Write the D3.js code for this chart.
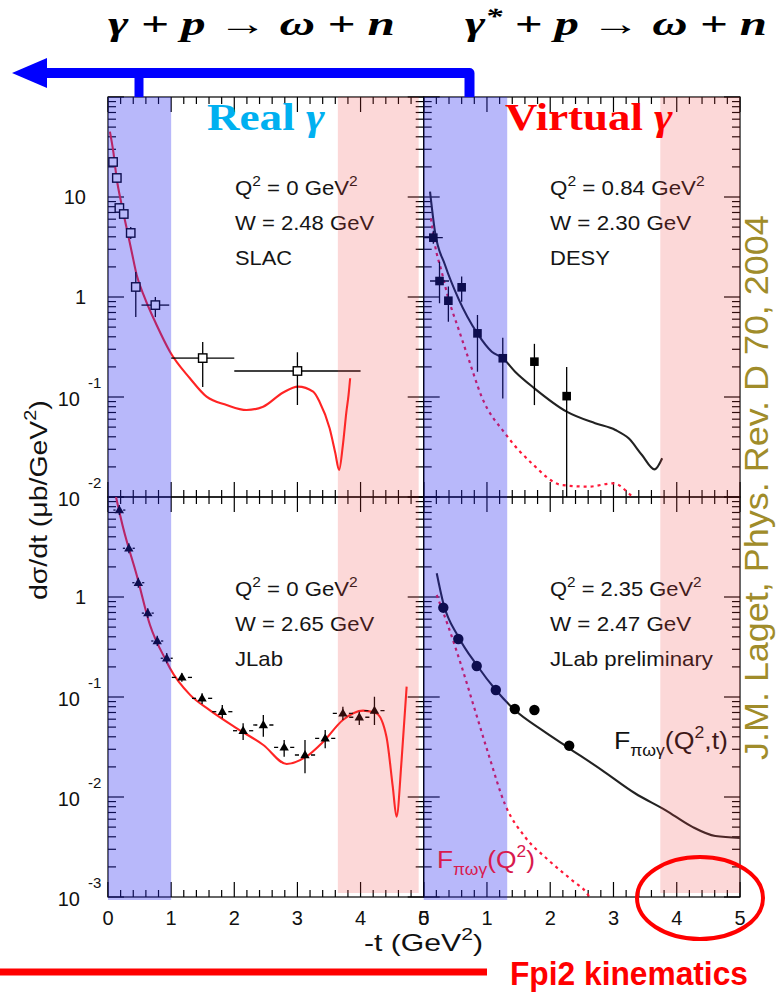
<!DOCTYPE html>
<html>
<head>
<meta charset="utf-8">
<script src="https://cdn.jsdelivr.net/npm/d3@7/dist/d3.min.js"></script>
<style>
  html, body { margin: 0; padding: 0; background: #fff; }
  svg { display: block; }
</style>
</head>
<body>
<svg id="chart" width="777" height="993"></svg>
<script>
// ---------- axis ticks ----------
const xTickValues = [0, 1, 2, 3, 4, 5];
const topYLabels = [10, 1, 0.1, 0.01];
const botYLabels = [1, 0.1, 0.01, 0.001];

// ---------- shaded -t ranges [tmin, tmax] ----------
const blueBandLeft  = [0, 1.0];
const blueBandRight = [0, 1.32];
const pinkBandLeft  = [3.64, 4.92];
const pinkBandRight = [3.74, 5.0];

// ---------- SLAC: Q2 = 0, W = 2.48 GeV ----------
const slacT    = [0.08, 0.14, 0.18, 0.25, 0.36, 0.44, 0.75, 1.5, 3.0];
const slacY    = [22.4, 15.5, 7.76, 6.76, 4.37, 1.26, 0.83, 0.245, 0.182];
const slacYLo  = [20.5, 14.0, 7.0, 6.1, 3.8, 0.63, 0.63, 0.126, 0.083];
const slacYHi  = [24.5, 17.0, 8.6, 7.5, 5.0, 1.78, 1.0, 0.355, 0.28];
const slacTErr = [0, 0, 0, 0, 0, 0, 0.22, 0.5, 1.0];
const slacModelT = [0.03, 0.084, 0.137, 0.217, 0.296, 0.375, 0.454, 0.585, 0.77, 0.981, 1.297, 1.561, 1.878, 2.194, 2.457, 2.774, 3.011, 3.249, 3.35, 3.51, 3.6, 3.66, 3.72, 3.776, 3.81, 3.835];
const slacModelY = [45, 28.4, 15.4, 8.3, 4.86, 2.84, 1.66, 0.97, 0.525, 0.284, 0.154, 0.1007, 0.0832, 0.0741, 0.08, 0.111, 0.127, 0.113, 0.0897, 0.0486, 0.0275, 0.0186, 0.0331, 0.0713, 0.105, 0.154];

// ---------- DESY: Q2 = 0.84, W = 2.30 GeV ----------
const desyT    = [0.152, 0.25, 0.39, 0.60, 0.85, 1.25, 1.75, 2.26];
const desyY    = [3.92, 1.445, 0.918, 1.25, 0.433, 0.244, 0.2256, 0.102];
const desyYLo  = [3.4, 0.865, 0.566, 0.897, 0.179, 0.0966, 0.083, 0.005];
const desyYHi  = [4.6, 2.25, 1.27, 1.6, 0.661, 0.392, 0.34, 0.2];
const desyTErr = [0.15, 0.15, 0, 0, 0, 0, 0, 0];
const desyModelT = [0.1, 0.178, 0.337, 0.547, 0.848, 1.076, 1.25, 1.445, 1.75, 2.26, 2.71, 3.03, 3.24, 3.45, 3.65, 3.77];
const desyModelY = [11.3, 4.5, 2.09, 0.97, 0.433, 0.284, 0.244, 0.179, 0.122, 0.0713, 0.0546, 0.0468, 0.0386, 0.0263, 0.0189, 0.0244];
const desyFormT = [0.115, 0.178, 0.284, 0.39, 0.547, 0.706, 0.918, 1.285, 1.709, 2.18, 2.6, 3.0, 3.24, 3.3];
const desyFormY = [6.1, 3.31, 1.79, 0.97, 0.486, 0.244, 0.1, 0.0433, 0.0217, 0.0132, 0.0127, 0.0137, 0.0109, 0.01];

// ---------- JLab: Q2 = 0, W = 2.65 GeV ----------
const jlabT    = [0.18, 0.33, 0.48, 0.63, 0.78, 0.93, 1.17, 1.49, 1.81, 2.14, 2.46, 2.79, 3.12, 3.44, 3.72, 3.98, 4.22];
const jlabY    = [7.4, 3.07, 1.39, 0.69, 0.363, 0.244, 0.157, 0.097, 0.0713, 0.046, 0.0525, 0.0314, 0.0263, 0.0386, 0.0687, 0.0627, 0.073];
const jlabYLo  = [6.6, 2.74, 1.24, 0.616, 0.324, 0.218, 0.1422, 0.0851, 0.0612, 0.0372, 0.0401, 0.0253, 0.01725, 0.0307, 0.0589, 0.0525, 0.0525];
const jlabYHi  = [8.3, 3.44, 1.56, 0.77, 0.41, 0.275, 0.1726, 0.1089, 0.0832, 0.0546, 0.0661, 0.0372, 0.0372, 0.0468, 0.08, 0.0713, 0.1007];
const jlabTErr = [0.06, 0.06, 0.06, 0.06, 0.06, 0.06, 0.16, 0.16, 0.16, 0.16, 0.16, 0.16, 0.16, 0.16, 0.16, 0.16, 0.16];
const jlabModelT = [0.127, 0.242, 0.454, 0.665, 0.93, 0.98, 1.30, 1.61, 2.04, 2.46, 2.83, 3.14, 3.41, 3.72, 4.04, 4.25, 4.41, 4.51, 4.57, 4.65, 4.73];
const jlabModelY = [10, 4.86, 1.66, 0.525, 0.225, 0.195, 0.105, 0.074, 0.0486, 0.0331, 0.0214, 0.0253, 0.0357, 0.0589, 0.073, 0.0687, 0.0401, 0.0127, 0.00635, 0.0234, 0.127];

// ---------- JLab preliminary: Q2 = 2.35, W = 2.47 GeV ----------
const prelimT   = [0.31, 0.547, 0.838, 1.14, 1.44, 1.75, 2.30];
const prelimY   = [0.782, 0.38, 0.204, 0.1175, 0.0759, 0.0741, 0.0326];
const prelimYLo = [0.73, 0.355, 0.19, 0.109, 0.07, 0.069, 0.0295];
const prelimYHi = [0.84, 0.41, 0.219, 0.127, 0.082, 0.080, 0.036];
const prelimModelT = [0.206, 0.31, 0.547, 0.838, 1.14, 1.44, 1.867, 2.30, 2.816, 3.34, 3.82, 4.24, 4.61, 5.0];
const prelimModelY = [1.726, 0.865, 0.401, 0.209, 0.1175, 0.074, 0.0468, 0.0307, 0.0186, 0.0109, 0.0074, 0.00505, 0.00407, 0.0039];
const prelimFormT = [0.206, 0.39, 0.6, 0.81, 1.02, 1.29, 1.6, 1.97, 2.34, 2.58, 2.62];
const prelimFormY = [1.047, 0.505, 0.201, 0.0741, 0.0273, 0.0083, 0.004, 0.00234, 0.00148, 0.00109, 0.001];

// ---------- scales ----------
const xL = d3.scaleLinear().domain([0, 5]).range([108, 423.7]);
const xR = d3.scaleLinear().domain([0, 5]).range([423.7, 740]);
const yT = d3.scaleLog().domain([0.01, 100]).range([497, 97]);
const yB = d3.scaleLog().domain([0.001, 10]).range([897, 497]);

const sans = "'Liberation Sans', Arial, Helvetica, sans-serif";
const serif = "'Liberation Serif', 'Times New Roman', serif";
const svg = d3.select("#chart");
const defs = svg.append("defs");

const panels = {
  tl: { x: xL, y: yT }, tr: { x: xR, y: yT },
  bl: { x: xL, y: yB }, br: { x: xR, y: yB }
};
Object.entries(panels).forEach(([id, p]) => {
  const [x0, x1] = p.x.range(), [y1, y0] = p.y.range();
  defs.append("clipPath").attr("id", "clip-" + id)
    .append("rect").attr("x", x0).attr("y", y0).attr("width", x1 - x0).attr("height", y1 - y0);
  p.id = id;
});

// rich text: parts [{t, sup, sub, italic}], optional horizontal fit to a width
function richText(parent, o) {
  const g = parent.append("g")
    .attr("transform", `translate(${o.x},${o.y})` + (o.rotate ? ` rotate(${o.rotate})` : ""));
  const t = g.append("text")
    .attr("font-family", o.family || sans).attr("font-size", o.size)
    .attr("font-weight", o.weight || "normal").attr("font-style", o.style || "normal")
    .attr("fill", o.fill || "#111");
  let cur = 0;
  o.parts.forEach(p => {
    const target = p.sup ? -(o.supShift || 0.45) * o.size : p.sub ? (o.subShift || 0.32) * o.size : 0;
    const ts = t.append("tspan").attr("dy", target - cur).text(p.t);
    if (p.sup || p.sub) ts.attr("font-size", o.size * (o.smallScale || 0.7));
    if (p.italic) ts.attr("font-style", "italic");
    if (p.upright) ts.attr("font-style", "normal").attr("font-weight", "normal");
    cur = target;
  });
  const bw = t.node().getBBox().width;
  const k = o.width ? o.width / bw : 1;
  const fw = bw * k;
  const off = o.anchor === "middle" ? -fw / 2 : o.anchor === "end" ? -fw : 0;
  t.attr("transform", `translate(${off},0) scale(${k},1)`);
  return t;
}

// ---------- frames and ticks ----------
function drawFrame(p) {
  const [x0, x1] = p.x.range(), [y1, y0] = p.y.range();
  const g = svg.append("g").attr("stroke", "#000").attr("stroke-width", 1.2).attr("fill", "none");
  g.append("rect").attr("x", x0).attr("y", y0).attr("width", x1 - x0).attr("height", y1 - y0);
  p.x.ticks(25).forEach(v => {
    const major = Math.abs(v - Math.round(v)) < 1e-6, L = major ? 15 : 7, px = p.x(v);
    g.append("line").attr("x1", px).attr("x2", px).attr("y1", y1).attr("y2", y1 - L);
    g.append("line").attr("x1", px).attr("x2", px).attr("y1", y0).attr("y2", y0 + L);
  });
  p.y.ticks().forEach(v => {
    const lg = Math.log10(v), major = Math.abs(lg - Math.round(lg)) < 1e-6, L = major ? 16 : 8, py = p.y(v);
    g.append("line").attr("x1", x0).attr("x2", x0 + L).attr("y1", py).attr("y2", py);
    g.append("line").attr("x1", x1).attr("x2", x1 - L).attr("y1", py).attr("y2", py);
  });
}
Object.values(panels).forEach(drawFrame);

// ---------- model curves ----------
function drawCurve(p, T, Y, color, dash) {
  const line = d3.line().x(d => p.x(d[0])).y(d => p.y(d[1])).curve(d3.curveMonotoneX);
  svg.append("path").attr("clip-path", `url(#clip-${p.id})`)
    .attr("d", line(T.map((t, i) => [t, Y[i]])))
    .attr("fill", "none").attr("stroke", color).attr("stroke-width", dash ? 2.2 : 2.1)
    .attr("stroke-dasharray", dash || null).attr("stroke-linejoin", "round");
}
drawCurve(panels.tl, slacModelT, slacModelY, "#ff2424");
drawCurve(panels.tr, desyModelT, desyModelY, "#222");
drawCurve(panels.tr, desyFormT, desyFormY, "#ff1838", "3,4");
drawCurve(panels.bl, jlabModelT, jlabModelY, "#ff2424");
drawCurve(panels.br, prelimModelT, prelimModelY, "#222");
drawCurve(panels.br, prelimFormT, prelimFormY, "#ff1838", "3,4");

// ---------- data points with error bars ----------
function drawPoints(p, T, Y, lo, hi, terr, marker, hgap) {
  const g = svg.append("g").attr("clip-path", `url(#clip-${p.id})`);
  T.forEach((t, i) => {
    const px = p.x(t), py = p.y(Y[i]);
    const eg = g.append("g").attr("stroke", "#000").attr("stroke-width", 1.3);
    if (lo) eg.append("line").attr("x1", px).attr("x2", px).attr("y1", p.y(lo[i])).attr("y2", p.y(hi[i]));
    if (terr && terr[i] > 0) {
      const xa = p.x(t - terr[i]), xb = p.x(t + terr[i]), gap = hgap || 0;
      eg.append("line").attr("x1", xa).attr("x2", px - gap).attr("y1", py).attr("y2", py);
      eg.append("line").attr("x1", px + gap).attr("x2", xb).attr("y1", py).attr("y2", py);
    }
    if (marker === "openSquare") {
      g.append("rect").attr("x", px - 4.2).attr("y", py - 4.2).attr("width", 8.4).attr("height", 8.4)
        .attr("fill", "#fff").attr("stroke", "#000").attr("stroke-width", 1.4);
    } else if (marker === "square") {
      g.append("rect").attr("x", px - 4.3).attr("y", py - 4.3).attr("width", 8.6).attr("height", 8.6).attr("fill", "#000");
    } else if (marker === "triangle") {
      g.append("path").attr("transform", `translate(${px},${py + 0.5})`)
        .attr("d", d3.symbol(d3.symbolTriangle, 38)()).attr("fill", "#000");
    } else {
      g.append("circle").attr("cx", px).attr("cy", py).attr("r", 5.2).attr("fill", "#000");
    }
  });
}
drawPoints(panels.tl, slacT, slacY, slacYLo, slacYHi, slacTErr, "openSquare");
drawPoints(panels.tr, desyT, desyY, desyYLo, desyYHi, desyTErr, "square");
drawPoints(panels.bl, jlabT, jlabY, jlabYLo, jlabYHi, jlabTErr, "triangle", 6);
drawPoints(panels.br, prelimT, prelimY, prelimYLo, prelimYHi, null, "circle");

// ---------- kinematics text inside the panels ----------
const kin = [
  { x: 235, y: 195, parts: [{ t: "Q" }, { t: "2", sup: true }, { t: " = 0 GeV" }, { t: "2", sup: true }], w: 123 },
  { x: 235, y: 230, parts: [{ t: "W = 2.48 GeV" }], w: 140 },
  { x: 235, y: 265, parts: [{ t: "SLAC" }], w: 57 },
  { x: 550, y: 195, parts: [{ t: "Q" }, { t: "2", sup: true }, { t: " = 0.84 GeV" }, { t: "2", sup: true }], w: 155 },
  { x: 550, y: 230, parts: [{ t: "W = 2.30 GeV" }], w: 142 },
  { x: 550, y: 265, parts: [{ t: "DESY" }], w: 60 },
  { x: 235, y: 596, parts: [{ t: "Q" }, { t: "2", sup: true }, { t: " = 0 GeV" }, { t: "2", sup: true }], w: 123 },
  { x: 235, y: 631, parts: [{ t: "W = 2.65 GeV" }], w: 140 },
  { x: 235, y: 666, parts: [{ t: "JLab" }], w: 48 },
  { x: 550, y: 596, parts: [{ t: "Q" }, { t: "2", sup: true }, { t: " = 2.35 GeV" }, { t: "2", sup: true }], w: 152 },
  { x: 550, y: 631, parts: [{ t: "W = 2.47 GeV" }], w: 142 },
  { x: 550, y: 666, parts: [{ t: "JLab preliminary" }], w: 163 }
];
kin.forEach(k => richText(svg, { x: k.x, y: k.y, parts: k.parts, size: 20, width: k.w, fill: "#151515" }));

richText(svg, { x: 614, y: 749, size: 24, width: 114, fill: "#111", subShift: 0.3, smallScale: 0.66,
  parts: [{ t: "F" }, { t: "πωγ", sub: true }, { t: "(Q" }, { t: "2", sup: true }, { t: ",t)" }] });

// ---------- shaded t ranges (translucent overlays) ----------
function band(x, range, y0, y1, color, op) {
  svg.append("rect").attr("x", x(range[0])).attr("y", y0)
    .attr("width", x(range[1]) - x(range[0])).attr("height", y1 - y0)
    .attr("fill", color).attr("fill-opacity", op);
}
band(xL, blueBandLeft, 97, 900, "rgb(40,40,240)", 0.33);
band(xR, blueBandRight, 97, 900, "rgb(40,40,240)", 0.33);
band(xL, pinkBandLeft, 97, 893, "rgb(240,60,60)", 0.2);
band(xR, pinkBandRight, 97, 893, "rgb(240,60,60)", 0.2);

richText(svg, { x: 437, y: 868, size: 24, width: 98, fill: "#d81a4e", subShift: 0.3, smallScale: 0.66,
  parts: [{ t: "F" }, { t: "πωγ", sub: true }, { t: "(Q" }, { t: "2", sup: true }, { t: ")" }] });

// ---------- axis labels ----------
function yLabels(p, vals) {
  vals.forEach(v => {
    const py = p.y(v), e = Math.round(Math.log10(v));
    if (e === 0 || e === 1) {
      svg.append("text").attr("x", 86).attr("y", py + 7).attr("text-anchor", "end")
        .attr("font-family", sans).attr("font-size", 20).attr("fill", "#111").text(e === 0 ? "1" : "10");
    } else {
      svg.append("text").attr("x", 80).attr("y", py + 9).attr("text-anchor", "end")
        .attr("font-family", sans).attr("font-size", 20).attr("fill", "#111").text("10");
      svg.append("text").attr("x", 88).attr("y", py - 9)
        .attr("font-family", sans).attr("font-size", 15).attr("fill", "#111").text(String(e));
    }
  });
}
yLabels(panels.tl, topYLabels);
yLabels(panels.bl, botYLabels);

[xL, xR].forEach(x => xTickValues.forEach(v => {
  svg.append("text").attr("x", x(v)).attr("y", 925).attr("text-anchor", "middle")
    .attr("font-family", sans).attr("font-size", 20).attr("fill", "#111").text(String(v));
}));

richText(svg, { x: 364, y: 951, size: 24, width: 119, fill: "#111",
  parts: [{ t: "-t  (GeV" }, { t: "2", sup: true }, { t: ")" }] });
richText(svg, { x: 47, y: 600, rotate: -90, size: 24, width: 200, fill: "#111",
  parts: [{ t: "dσ/dt  (μb/GeV" }, { t: "2", sup: true }, { t: ")" }] });

// ---------- photon labels ----------
richText(svg, { x: 207, y: 130, size: 38, width: 118, family: serif, weight: "bold", fill: "#00b0f0",
  parts: [{ t: "Real " }, { t: "γ", italic: true }] });
richText(svg, { x: 505, y: 130, size: 38, width: 168, family: serif, weight: "bold", fill: "#ff0000",
  parts: [{ t: "Virtual " }, { t: "γ", italic: true }] });

// ---------- reactions and arrow ----------
richText(svg, { x: 108, y: 35, size: 34, width: 287, family: serif, weight: "bold", style: "italic", fill: "#000",
  parts: [{ t: "γ + p " }, { t: "→", upright: true }, { t: " ω + n" }] });
richText(svg, { x: 465, y: 35, size: 34, width: 302, family: serif, weight: "bold", style: "italic", fill: "#000",
  supShift: 0.33, parts: [{ t: "γ" }, { t: "*", sup: true }, { t: " + p " }, { t: "→", upright: true }, { t: " ω + n" }] });

const arrow = svg.append("g").attr("fill", "none").attr("stroke", "#0000ff");
arrow.append("path").attr("d", "M40,73 H469.5 V97").attr("stroke-width", 10).attr("stroke-linejoin", "round");
arrow.append("line").attr("x1", 139).attr("x2", 139).attr("y1", 73).attr("y2", 97).attr("stroke-width", 9);
svg.append("path").attr("d", "M12,73 L47,58 L47,88 Z").attr("fill", "#0000ff");

// ---------- reference note, highlight ----------
richText(svg, { x: 768, y: 760, rotate: -90, size: 33, width: 545, fill: "#a08c2a",
  parts: [{ t: "J.M. Laget, Phys. Rev. D 70, 2004" }] });

svg.append("line").attr("x1", 0).attr("x2", 487).attr("y1", 972).attr("y2", 972)
  .attr("stroke", "#ff0000").attr("stroke-width", 7);
richText(svg, { x: 510, y: 985, size: 33, width: 238, weight: "bold", fill: "#ff0000",
  parts: [{ t: "Fpi2 kinematics" }] });
svg.append("ellipse").attr("cx", 700).attr("cy", 898).attr("rx", 63).attr("ry", 41)
  .attr("fill", "none").attr("stroke", "#ff0000").attr("stroke-width", 4);
</script>
</body>
</html>
